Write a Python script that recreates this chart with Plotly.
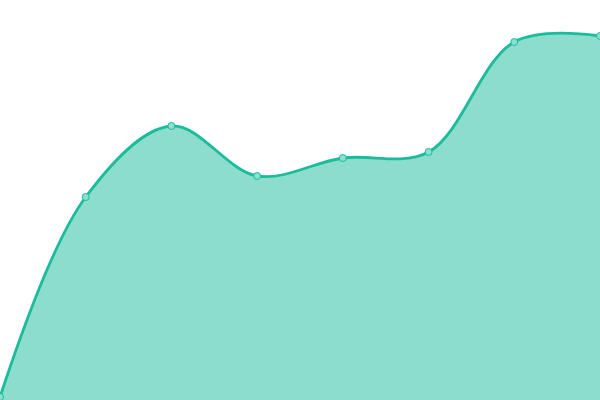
import plotly.graph_objects as go

x_vals = [0, 1, 2, 3, 4, 5, 6, 7]
y_vals = [3, 203, 274, 224, 242, 248, 358, 364]

fig = go.Figure()
fig.add_trace(go.Scatter(
    x=x_vals, y=y_vals,
    mode="lines+markers",
    line=dict(shape="spline", smoothing=1, color="#1abc9c", width=2.8),
    marker=dict(size=7, color="#8ae0cf", line=dict(color="#1abc9c", width=1)),
    fill="tozeroy",
    fillcolor="rgba(26,188,156,0.5)",
    cliponaxis=False,
    hoverinfo="skip",
))

fig.update_layout(
    width=600, height=400,
    margin=dict(l=0, r=0, t=0, b=0),
    paper_bgcolor="white", plot_bgcolor="white",
    showlegend=False,
    xaxis=dict(visible=False, range=[0, 7]),
    yaxis=dict(visible=False, range=[0, 400]),
)

# drop the default page margin so the chart sits at the window corner
fig.write_html("out.html", config={"displayModeBar": False},
               post_script="document.body.style.margin='0';")
